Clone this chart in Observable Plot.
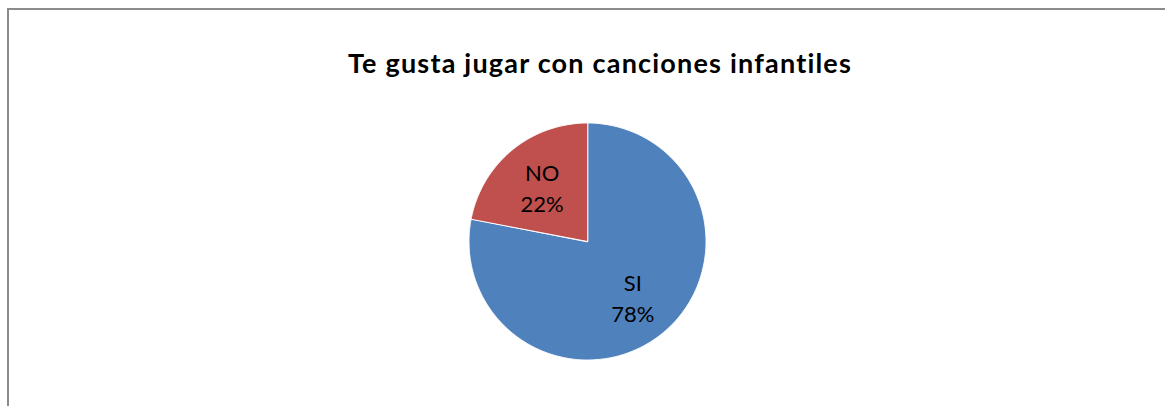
<!DOCTYPE html>
<html>
<head>
<meta charset="utf-8">
<script src="https://cdn.jsdelivr.net/npm/d3@7"></script>
<script src="https://cdn.jsdelivr.net/npm/@observablehq/plot@0.6"></script>
<style>
  html, body { margin: 0; padding: 0; background: #fff; overflow: hidden; }
  #chart { position: relative; width: 1165px; height: 406px; overflow: hidden; }
  #frame { position: absolute; left: 7px; top: 8px; width: 1300px; height: 500px;
           border-left: 2px solid #8c8c8c; border-top: 2px solid #8c8c8c; pointer-events: none; }
  #title { height: 110px; box-sizing: border-box; padding-top: 47px; padding-left: 35px;
           text-align: center; font-family: Lato, "Open Sans", sans-serif; font-weight: bold;
           font-size: 27px; letter-spacing: 1.2px; line-height: 31px; color: #000; margin: 0; }
  svg { display: block; }
</style>
</head>
<body>
<div id="chart">
  <div id="frame"></div>
  <div id="title"></div>
  <div id="plot"></div>
</div>
<script>
const chartTitle = "Te gusta jugar con canciones infantiles";
const categories = ["SI", "NO"];
const percents = [78, 22];
const sliceColors = ["#4F81BD", "#C0504D"];

document.getElementById("title").textContent = chartTitle;

const rows = categories.map((c, i) => ({category: c, value: percents[i]}));
const arcs = d3.pie().sort(null).value(d => d.value)(rows);

// wedge outline points (geometry of each slice), in unit-circle space
const wedgePoints = arcs.flatMap(a => {
  const n = Math.max(2, Math.ceil((a.endAngle - a.startAngle) / (Math.PI / 360)));
  const pts = [{category: a.data.category, x: 0, y: 0}];
  for (let k = 0; k <= n; k++) {
    const t = a.startAngle + (a.endAngle - a.startAngle) * k / n;
    pts.push({category: a.data.category, x: Math.sin(t), y: Math.cos(t)});
  }
  return pts;
});

const labels = arcs.map(a => {
  const m = (a.startAngle + a.endAngle) / 2;
  return {category: a.data.category, text: `${a.data.category}\n${a.data.value}%`,
          x: 0.6 * Math.sin(m), y: 0.6 * Math.cos(m)};
});

const chart = Plot.plot({
  width: 1165,
  height: 296,
  marginLeft: 468.5,
  marginRight: 459.5,
  marginTop: 12.5,
  marginBottom: 46.5,
  x: {domain: [-1, 1], axis: null},
  y: {domain: [-1, 1], axis: null},
  color: {domain: categories, range: sliceColors},
  style: {background: "transparent", fontFamily: "Lato, 'Open Sans', sans-serif"},
  marks: [
    Plot.line(wedgePoints, {x: "x", y: "y", z: "category", fill: "category",
      stroke: "white", strokeWidth: 1, curve: "linear-closed"}),
    Plot.text(labels, {x: "x", y: "y", text: "text", fontSize: 22, lineHeight: 1.42,
      fill: "#000", textAnchor: "middle"})
  ]
});
document.getElementById("plot").appendChild(chart);
</script>
</body>
</html>
